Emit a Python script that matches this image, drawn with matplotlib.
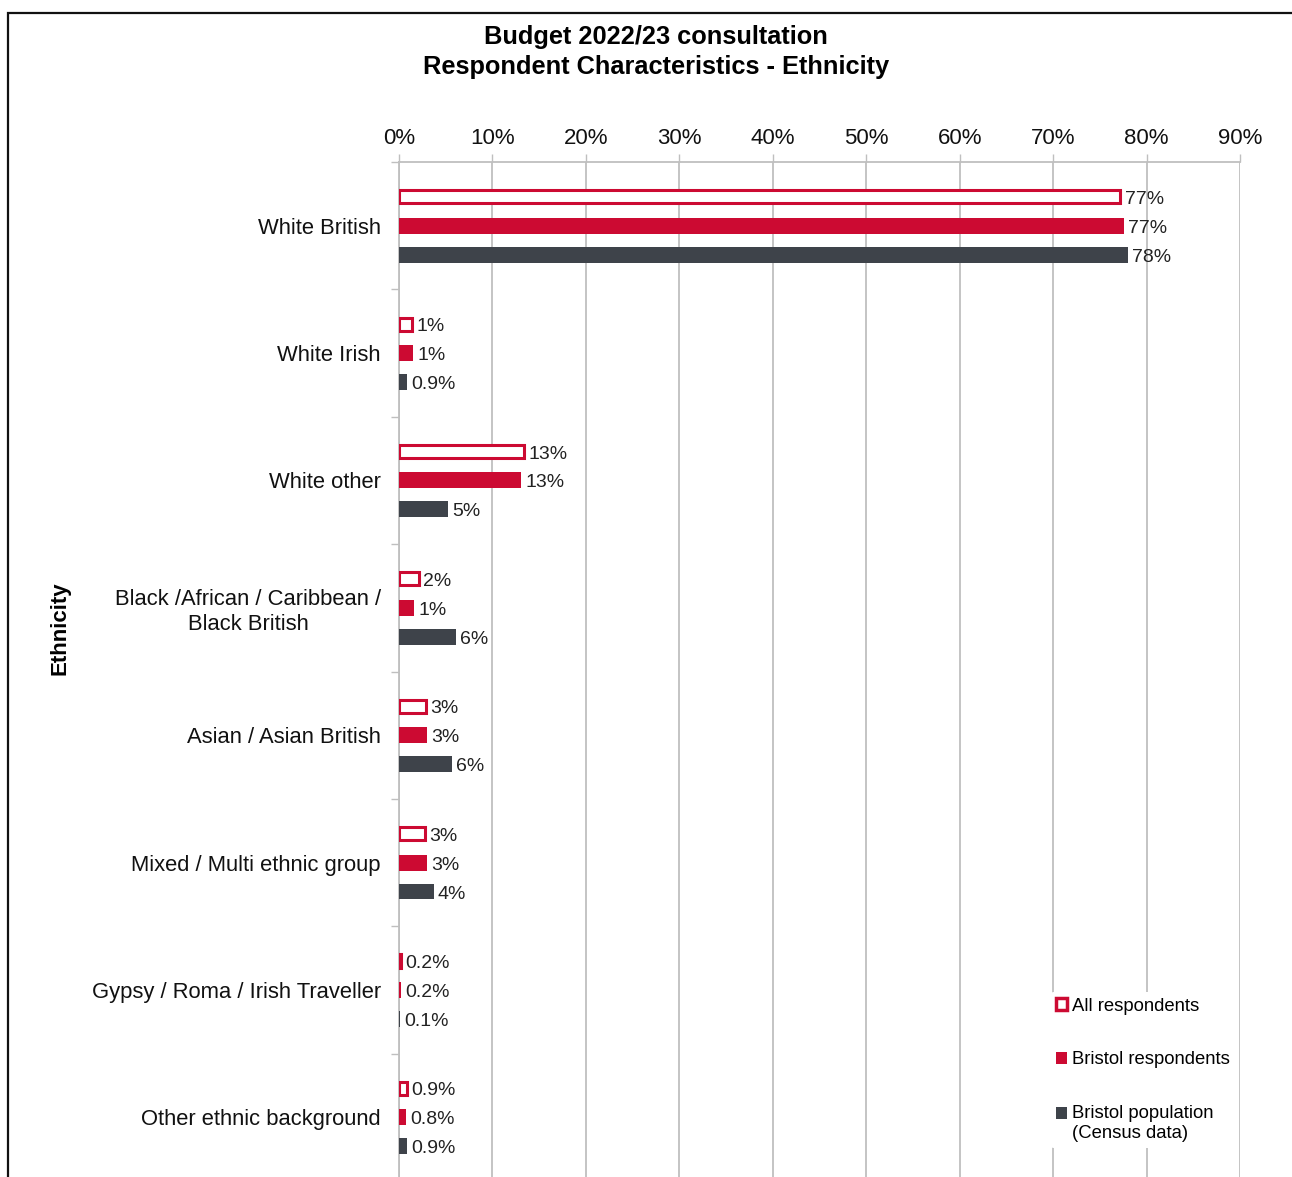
import matplotlib.pyplot as plt
import numpy as np
from matplotlib.patches import Patch, Rectangle

plt.rcParams['font.family'] = ['Liberation Sans', 'DejaVu Sans']

# Data (percent)
categories = ['White British', 'White Irish', 'White other',
              'Black /African / Caribbean /\nBlack British', 'Asian / Asian British',
              'Mixed / Multi ethnic group', 'Gypsy / Roma / Irish Traveller',
              'Other ethnic background']
all_resp = [77.2, 1.4, 13.4, 2.1, 2.9, 2.8, 0.2, 0.9]
bristol_resp = [77.6, 1.5, 13.1, 1.6, 3.0, 3.0, 0.2, 0.8]
bristol_pop = [78.0, 0.9, 5.2, 6.1, 5.7, 3.7, 0.1, 0.9]
all_labels = ['77%', '1%', '13%', '2%', '3%', '3%', '0.2%', '0.9%']
bristol_labels = ['77%', '1%', '13%', '1%', '3%', '3%', '0.2%', '0.8%']
pop_labels = ['78%', '0.9%', '5%', '6%', '6%', '4%', '0.1%', '0.9%']
series_names = ['All respondents', 'Bristol respondents', 'Bristol population\n(Census data)']

RED = '#CC0A32'
GREY = '#3E434A'
GRID = '#BFBFBF'

W, H = 1292, 1177
fig = plt.figure(figsize=(W / 100, H / 100), dpi=100)

# outer border of the chart (cut off on right and bottom)
fig.patches.append(Rectangle((8 / W, -0.05), 1.1, 1 - 13 / H + 0.05,
                             transform=fig.transFigure, fill=False,
                             edgecolor='#111111', linewidth=1.6))

ax = fig.add_axes([399 / W, -4 / H, (1240 - 399) / W, (1181 - 162) / H])

y = np.arange(len(categories))
off = 0.227
h = 0.125

ax.barh(y - off, all_resp, height=h - 0.022, color='white', edgecolor=RED,
        linewidth=2.2, zorder=3)
ax.barh(y, bristol_resp, height=h, color=RED, zorder=3)
ax.barh(y + off, bristol_pop, height=h, color=GREY, zorder=3)

for vals, labs, dy in [(all_resp, all_labels, -off), (bristol_resp, bristol_labels, 0),
                       (bristol_pop, pop_labels, off)]:
    for i, (v, t) in enumerate(zip(vals, labs)):
        ax.text(v + 0.45, i + dy + 0.02, t, va='center', ha='left', fontsize=14,
                color='#222222', zorder=4)

ax.set_xlim(0, 90)
ax.set_ylim(len(categories) - 0.5, -0.5)
ax.set_xticks(np.arange(0, 91, 10))
ax.xaxis.set_major_formatter(plt.FuncFormatter(lambda v, p: f'{v:.0f}%'))
ax.xaxis.tick_top()
ax.tick_params(axis='x', direction='out', length=6, width=1, color=GRID,
               labelsize=16, pad=3, labelcolor='#111111')
ax.grid(axis='x', color=GRID, linewidth=1.3, zorder=0)

ax.set_yticks(y)
ax.set_yticklabels(categories, fontsize=15.8, color='#111111')
ax.set_yticks(np.arange(len(categories) + 1) - 0.5, minor=True)
ax.tick_params(axis='y', which='major', length=0, pad=13)
ax.tick_params(axis='y', which='minor', length=6, width=1, color=GRID)
for lab in ax.get_yticklabels():
    lab.set_multialignment('center')

for s in ['right', 'bottom']:
    ax.spines[s].set_visible(False)
for s in ['top', 'left']:
    ax.spines[s].set_color(GRID)
    ax.spines[s].set_linewidth(1.3)

fig.text(656 / W, 1 - 52 / H, 'Budget 2022/23 consultation\nRespondent Characteristics - Ethnicity',
         ha='center', va='center', fontsize=18.3, fontweight='bold', linespacing=1.32)
fig.text(60 / W, 1 - 628 / H, 'Ethnicity', rotation=90, ha='center', va='center',
         fontsize=16, fontweight='bold')

handles = [Patch(facecolor='white', edgecolor=RED, linewidth=2.5),
           Patch(facecolor=RED), Patch(facecolor=GREY)]
leg = ax.legend(handles, series_names, loc='upper left',
                bbox_to_anchor=(1050 / W, 1 - 992 / H), bbox_transform=fig.transFigure,
                fontsize=13.3, frameon=True, framealpha=1, edgecolor='white',
                handlelength=0.6, handleheight=0.6, handletextpad=0.3,
                labelspacing=2.0, borderpad=0.3, borderaxespad=0)
leg.get_frame().set_linewidth(0)
leg.set_zorder(5)
# line the census marker up with the first line of its two-line label
last = leg.legend_handles[2]
last.set_y(last.get_y() + 7.5)

fig.savefig('out.png', dpi=100, facecolor='white')
